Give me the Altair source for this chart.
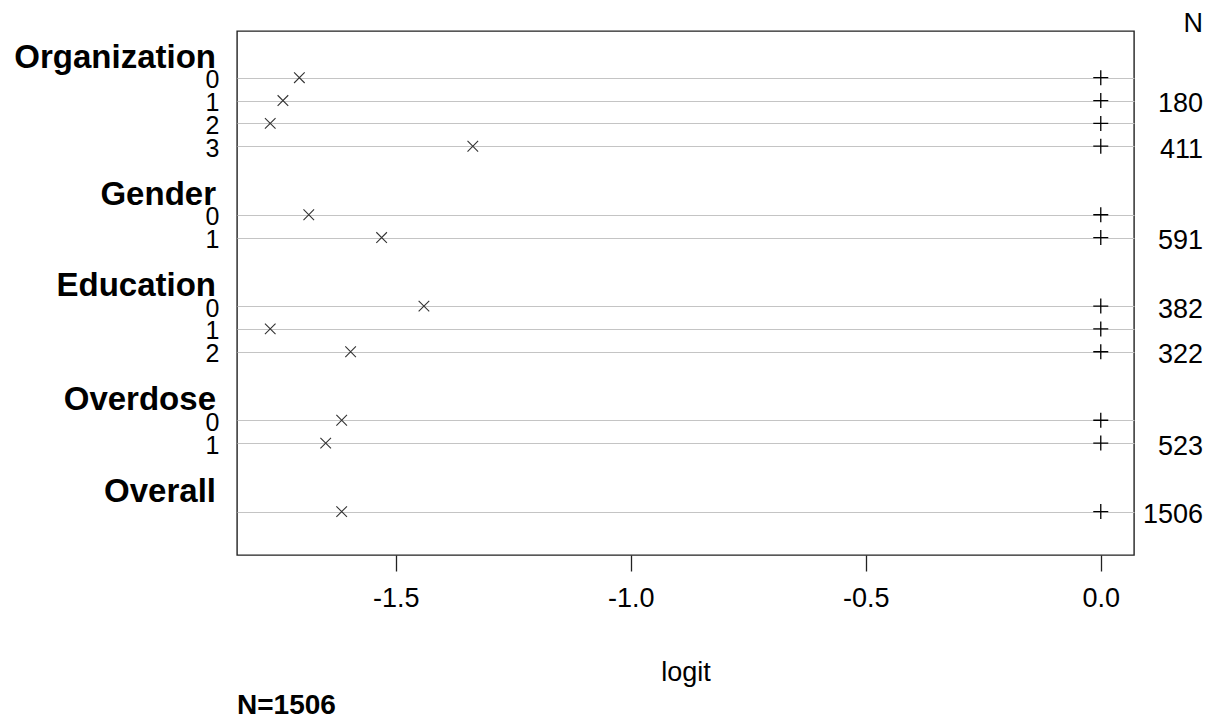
import altair as alt
import pandas as pd

# ---------------- data ----------------
groups = ["Organization", "Gender", "Education", "Overdose", "Overall"]
levels = [["0", "1", "2", "3"], ["0", "1"], ["0", "1", "2"], ["0", "1"], [""]]
logit_vals = [
    [-1.705, -1.740, -1.767, -1.336],
    [-1.685, -1.530],
    [-1.440, -1.767, -1.596],
    [-1.615, -1.649],
    [-1.615],
]
ref_vals = [[0.0, 0.0, 0.0, 0.0], [0.0, 0.0], [0.0, 0.0, 0.0], [0.0, 0.0], [0.0]]
n_vals = [["", "180", "", "411"], ["", "591"], ["382", "", "322"], ["", "523"], ["1506"]]
x_ticks = [-1.5, -1.0, -0.5, 0.0]
x_title = "logit"
n_header = "N"
footer = "N=1506"

# ---------------- build tables ----------------
group_rows, level_rows = [], []
r = 0
for g, levs, vals, refs, ns in zip(groups, levels, logit_vals, ref_vals, n_vals):
    group_rows.append({"row": r, "label": g})
    r += 1
    for lev, v, rv, n in zip(levs, vals, refs, ns):
        level_rows.append({"row": r, "label": lev, "logit": v, "ref": rv, "n": n})
        r += 1
    r += 1

gdf = pd.DataFrame(group_rows)
ldf = pd.DataFrame(level_rows)
hdf = pd.DataFrame([{"row": -1.45, "label": n_header}])

W, H = 897, 524
FONT = "Liberation Sans"

xscale = alt.Scale(domain=[-1.8377, 0.0707], nice=False, zero=False)
yscale = alt.Scale(domain=[-1.045, 21.9], reverse=True, nice=False, zero=False)

PATH_X = "M-0.7071,-0.7071L0.7071,0.7071M-0.7071,0.7071L0.7071,-0.7071"
PATH_PLUS = "M-1,0L1,0M0,-1L0,1"

label_expr = ("datum.value < 0 ? '-' + format(abs(datum.value), '.1f') "
              ": format(datum.value, '.1f')")

xmarks = alt.Chart(ldf).mark_point(
    shape=PATH_X, filled=False, stroke="#333333", strokeWidth=1.1, size=225, opacity=1
).encode(
    x=alt.X("logit:Q", scale=xscale,
            axis=alt.Axis(values=x_ticks, labelExpr=label_expr, title=x_title,
                          grid=False, domain=False, tickSize=16, tickColor="#222222",
                          tickWidth=1.3, labelPadding=14, labelFontSize=27,
                          labelFont=FONT, labelColor="black", titleFont=FONT,
                          titleFontSize=27, titleFontWeight="normal", titleColor="black",
                          titlePadding=48)),
    y=alt.Y("row:Q", scale=yscale,
            axis=alt.Axis(values=ldf["row"].tolist(), labels=False, ticks=False,
                          domain=False, title=None, grid=True, gridColor="#c4c4c4",
                          gridWidth=1.2)),
)

plus = alt.Chart(ldf).mark_point(
    shape=PATH_PLUS, filled=False, stroke="black", strokeWidth=1.3, size=225, opacity=1
).encode(
    x=alt.X("ref:Q", scale=xscale),
    y=alt.Y("row:Q", scale=yscale),
)

glabels = alt.Chart(gdf).mark_text(
    align="right", baseline="alphabetic", dy=13, font=FONT, fontSize=33,
    fontWeight="bold", color="black"
).encode(
    x=alt.value(-21),
    y=alt.Y("row:Q", scale=yscale),
    text="label:N",
)

llabels = alt.Chart(ldf).mark_text(
    align="right", baseline="alphabetic", dy=10.5, font=FONT, fontSize=25, color="black"
).encode(
    x=alt.value(-17.5),
    y=alt.Y("row:Q", scale=yscale),
    text="label:N",
)

nlabels = alt.Chart(ldf).mark_text(
    align="right", baseline="alphabetic", dy=11.5, font=FONT, fontSize=27, color="black"
).encode(
    x=alt.value(966),
    y=alt.Y("row:Q", scale=yscale),
    text="n:N",
)

nheader = alt.Chart(hdf).mark_text(
    align="right", baseline="alphabetic", dy=10, font=FONT, fontSize=27, color="black"
).encode(
    x=alt.value(966),
    y=alt.Y("row:Q", scale=yscale),
    text="label:N",
)

chart = alt.layer(xmarks, plus, glabels, llabels, nlabels, nheader).properties(
    width=W, height=H,
    title=alt.TitleParams(footer, orient="bottom", anchor="start", frame="group",
                          font=FONT, fontSize=28, fontWeight="bold", color="black",
                          offset=7),
    autosize=alt.AutoSizeParams(type="none"),
    padding={"left": 237, "top": 31, "right": 75, "bottom": 164},
).configure(background="white").configure_view(stroke="#222222", strokeWidth=1.4)

chart.save("out.html", embed_options={"renderer": "svg", "actions": False})
